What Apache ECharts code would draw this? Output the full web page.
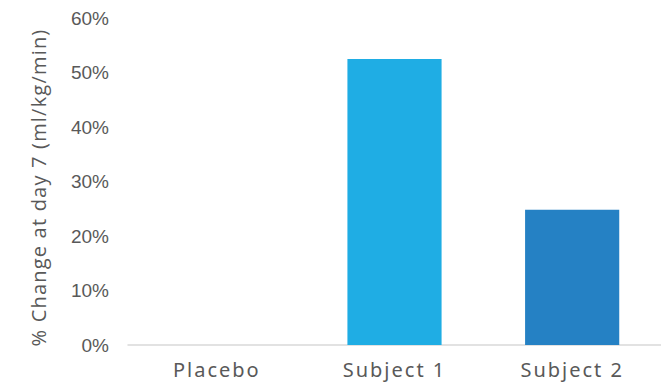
<!DOCTYPE html>
<html>
<head>
<meta charset="utf-8">
<script src="https://cdn.jsdelivr.net/npm/echarts@6/dist/echarts.min.js"></script>
<style>
  html, body { margin: 0; padding: 0; background: #fff; }
  #chart { width: 661px; height: 385px; }
  /* tracked-out lettering for the category labels and the axis title */
  #chart text[style*="Noto"] { letter-spacing: 2px; }
  #chart text[style*="Open Sans"] { letter-spacing: 1.2px; }
</style>
</head>
<body>
<div id="chart"></div>
<script>
// Categories and percent change values
const categories = ['Placebo', 'Subject 1', 'Subject 2'];
const changeValues = [0, 52.5, 24.8];
const barColors = ['#1FADE4', '#1FADE4', '#2581C4'];
const yTicks = { min: 0, max: 60, interval: 10 };

const chart = echarts.init(document.getElementById('chart'), null, { renderer: 'svg' });
chart.setOption({
  animation: false,
  grid: { left: 128, right: 0, top: 18, bottom: 40 },
  xAxis: {
    type: 'category',
    data: categories,
    axisLine: { lineStyle: { color: '#D9D9D9', width: 1.5 } },
    axisTick: { show: false },
    axisLabel: { color: '#595959', fontSize: 20, fontFamily: 'Noto Sans', margin: 14 }
  },
  yAxis: {
    type: 'value',
    min: yTicks.min, max: yTicks.max, interval: yTicks.interval,
    name: '% Change at day 7 (ml/kg/min)',
    nameLocation: 'middle',
    nameGap: 80,
    nameTextStyle: { color: '#595959', fontSize: 20, fontFamily: 'Open Sans', padding: [0, 12, 0, 0] },
    splitLine: { show: false },
    axisLine: { show: false },
    axisTick: { show: false },
    axisLabel: {
      color: '#595959', fontSize: 19, fontFamily: 'Liberation Sans', margin: 19,
      formatter: v => v + '%'
    }
  },
  series: [{
    type: 'bar',
    barWidth: '53%',
    data: changeValues.map((v, i) => ({ value: v, itemStyle: { color: barColors[i] } }))
  }]
});
</script>
</body>
</html>
